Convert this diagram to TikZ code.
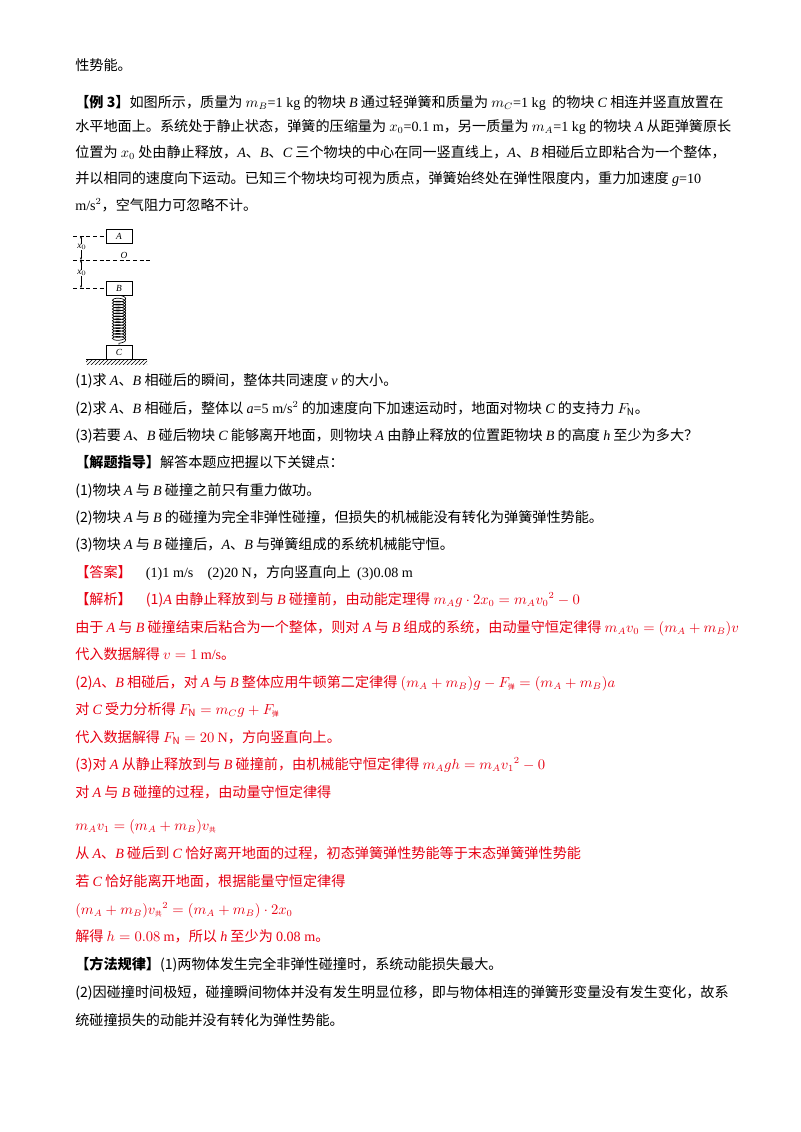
\documentclass[tikz,border=0pt]{standalone}
\usepackage{fontspec}
\setmainfont{Noto Sans CJK SC}
\newfontfamily\lat{Liberation Serif}
\usetikzlibrary{decorations.pathmorphing,patterns,arrows.meta}
\definecolor{rd}{RGB}{230,0,18}
\newcommand{\tl}[3][black]{\node[anchor=base west,inner sep=0,text=#1] at (75,#2) {#3};}
\newcommand{\la}[1]{{\lat\itshape #1}}
\newcommand{\lr}[1]{{\lat #1}}
\begin{document}
\begin{tikzpicture}[x=0.75pt,y=-0.75pt,font=\fontsize{10.6}{13}\selectfont]
\useasboundingbox (0,0) rectangle (800,1132);
\tl{70}{性势能。}
\tl{107}{\textbf{【例 3】}如图所示，质量为 $m_B$\lr{=1 kg} 的物块 \la{B} 通过轻弹簧和质量为 $m_C$\lr{=1 kg}\ \ 的物块 \la{C} 相连并竖直放置在}
\tl{131}{水平地面上。系统处于静止状态，弹簧的压缩量为 $x_0$\lr{=0.1 m}，另一质量为 $m_A$\lr{=1 kg} 的物块 \la{A} 从距弹簧原长}
\tl{157}{位置为 $x_0$ 处由静止释放，\la{A}、\la{B}、\la{C} 三个物块的中心在同一竖直线上，\la{A}、\la{B} 相碰后立即粘合为一个整体，}
\tl{183}{并以相同的速度向下运动。已知三个物块均可视为质点，弹簧始终处在弹性限度内，重力加速度 \la{g}\lr{=10}}
\tl{210}{\lr{m/s$^2$}，空气阻力可忽略不计。}
% diagram
\begin{scope}[line width=0.5pt]
\node[draw,minimum width=26*0.75pt,minimum height=14*0.75pt,inner sep=0,font=\lat\itshape\scriptsize] (A) at (119,236) {A};
\node[draw,minimum width=26*0.75pt,minimum height=14*0.75pt,inner sep=0,font=\lat\itshape\scriptsize] (B) at (119,288) {B};
\node[draw,minimum width=26*0.75pt,minimum height=14*0.75pt,inner sep=0,font=\lat\itshape\scriptsize] (C) at (119,352) {C};
\coordinate (t1) at (73,236); \coordinate (o1) at (73,260); \coordinate (o2) at (150,260); \coordinate (b1) at (73,288);
\draw[densely dashed] (t1) -- (A.west);
\draw[densely dashed] (o1) -- (o2);
\draw[densely dashed] (b1) -- (B.west);
\node[font=\lat\itshape\scriptsize] (O) at (124,255) {O};
\coordinate (v1) at (81,236); \coordinate (v2) at (81,260); \coordinate (v3) at (81,288);
\draw[{Stealth[length=2pt]}-{Stealth[length=2pt]},line width=0.3pt] (v1) -- (v2);
\draw[{Stealth[length=2pt]}-{Stealth[length=2pt]},line width=0.3pt] (v2) -- (v3);
\node[font=\lat\itshape\scriptsize,fill=white,inner sep=0.3pt] (xa) at (82,247) {x$_0$};
\node[font=\lat\itshape\scriptsize,fill=white,inner sep=0.3pt] (xb) at (82,273) {x$_0$};
\draw[decorate,decoration={coil,aspect=0.4,segment length=2.2pt,amplitude=5pt}] (B.south) -- (C.north);
\coordinate (g1) at (86,359); \coordinate (g2) at (147,359);
\fill[pattern=north east lines] (86,359) rectangle (147,364);
\draw (g1) -- (g2);
\end{scope}
\tl{385}{(1)求 \la{A}、\la{B} 相碰后的瞬间，整体共同速度 \la{v} 的大小。}
\tl{413}{(2)求 \la{A}、\la{B} 相碰后，整体以 \la{a}\lr{=5 m/s$^2$} 的加速度向下加速运动时，地面对物块 \la{C} 的支持力 $F_{\rm N}$。}
\tl{440}{(3)若要 \la{A}、\la{B} 碰后物块 \la{C} 能够离开地面，则物块 \la{A} 由静止释放的位置距物块 \la{B} 的高度 \la{h} 至少为多大？}
\tl{467}{\textbf{【解题指导】}解答本题应把握以下关键点：}
\tl{495}{(1)物块 \la{A} 与 \la{B} 碰撞之前只有重力做功。}
\tl{522}{(2)物块 \la{A} 与 \la{B} 的碰撞为完全非弹性碰撞，但损失的机械能没有转化为弹簧弹性势能。}
\tl{549}{(3)物块 \la{A} 与 \la{B} 碰撞后，\la{A}、\la{B} 与弹簧组成的系统机械能守恒。}
\tl{577}{\textcolor{rd}{【答案】}\quad \lr{(1)1 m/s\quad (2)20 N}，方向竖直向上\ \ \lr{(3)0.08 m}}
\tl[rd]{604}{【解析】\quad (1)\la{A} 由静止释放到与 \la{B} 碰撞前，由动能定理得 $m_Ag\cdot 2x_0=m_Av_0{}^2-0$}
\tl[rd]{632}{由于 \la{A} 与 \la{B} 碰撞结束后粘合为一个整体，则对 \la{A} 与 \la{B} 组成的系统，由动量守恒定律得 $m_Av_0=(m_A+m_B)v$}
\tl[rd]{659}{代入数据解得 $v=1$ \lr{m/s}。}
\tl[rd]{687}{(2)\la{A}、\la{B} 相碰后，对 \la{A} 与 \la{B} 整体应用牛顿第二定律得 $(m_A+m_B)g-F_{\mbox{\tiny 弹}}=(m_A+m_B)a$}
\tl[rd]{714}{对 \la{C} 受力分析得 $F_{\rm N}=m_Cg+F_{\mbox{\tiny 弹}}$}
\tl[rd]{742}{代入数据解得 $F_{\rm N}=20$ \lr{N}，方向竖直向上。}
\tl[rd]{769}{(3)对 \la{A} 从静止释放到与 \la{B} 碰撞前，由机械能守恒定律得 $m_Agh=m_Av_1{}^2-0$}
\tl[rd]{797}{对 \la{A} 与 \la{B} 碰撞的过程，由动量守恒定律得}
\tl[rd]{830}{$m_Av_1=(m_A+m_B)v_{\mbox{\tiny 共}}$}
\tl[rd]{858}{从 \la{A}、\la{B} 碰后到 \la{C} 恰好离开地面的过程，初态弹簧弹性势能等于末态弹簧弹性势能}
\tl[rd]{886}{若 \la{C} 恰好能离开地面，根据能量守恒定律得}
\tl[rd]{914}{$(m_A+m_B)v_{\mbox{\tiny 共}}{}^2=(m_A+m_B)\cdot 2x_0$}
\tl[rd]{941}{解得 $h=0.08$ \lr{m}，所以 \la{h} 至少为 \lr{0.08 m}。}
\tl{969}{\textbf{【方法规律】}(1)两物体发生完全非弹性碰撞时，系统动能损失最大。}
\tl{997}{(2)因碰撞时间极短，碰撞瞬间物体并没有发生明显位移，即与物体相连的弹簧形变量没有发生变化，故系}
\tl{1025}{统碰撞损失的动能并没有转化为弹性势能。}
\end{tikzpicture}
\end{document}
